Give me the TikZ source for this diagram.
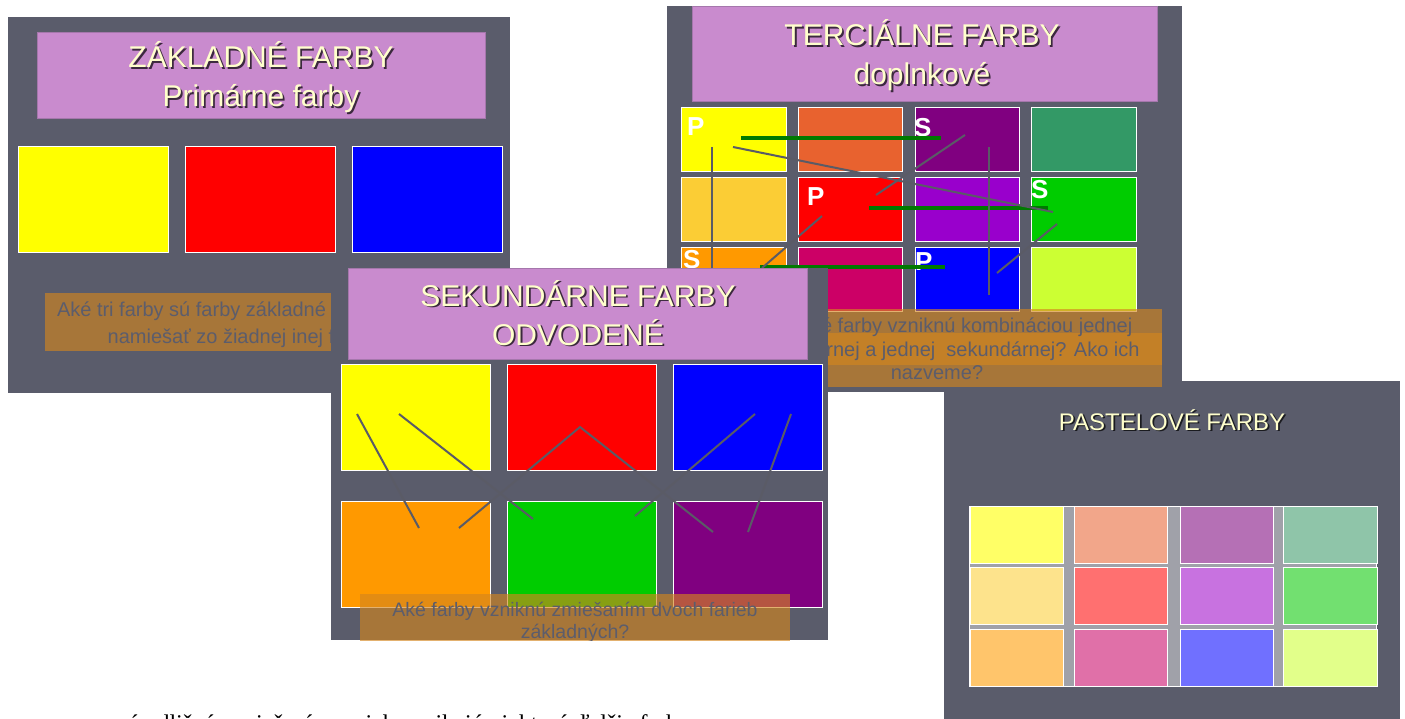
\documentclass[tikz,border=0pt]{standalone}
\usepackage{fontspec}
\setmainfont{Liberation Sans}
\newfontfamily\noteserif{Liberation Serif}
\usetikzlibrary{positioning}

\definecolor{slidegray}{HTML}{5A5C6B}
\definecolor{titlepurple}{HTML}{C98BCE}
\definecolor{titleedge}{HTML}{A577AC}
\definecolor{cream}{HTML}{FFFFCC}
\definecolor{captionorange}{HTML}{D4861E}
\definecolor{captiontext}{HTML}{5C5D6C}
\definecolor{wire}{HTML}{5A5B66}
\definecolor{pairgreen}{HTML}{007A00}
\definecolor{gridgray}{HTML}{A0A1A9}
% pure colours
\definecolor{cyellow}{HTML}{FFFF00}
\definecolor{cred}{HTML}{FF0000}
\definecolor{cblue}{HTML}{0000FF}
\definecolor{corange}{HTML}{FF9900}
\definecolor{cgreen}{HTML}{00CC00}
\definecolor{cpurple}{HTML}{800080}
% tertiary colours
\definecolor{tredorange}{HTML}{E8622F}
\definecolor{tteal}{HTML}{339966}
\definecolor{tyelloworange}{HTML}{FBCD35}
\definecolor{tviolet}{HTML}{9900CC}
\definecolor{tmagenta}{HTML}{CC0066}
\definecolor{tlime}{HTML}{CCFF33}
% pastel colours
\definecolor{pyellow}{HTML}{FFFF66}
\definecolor{psalmon}{HTML}{F2A68A}
\definecolor{pmauve}{HTML}{B570B5}
\definecolor{pteal}{HTML}{8FC5A9}
\definecolor{pcream}{HTML}{FDE38C}
\definecolor{pred}{HTML}{FF7070}
\definecolor{pviolet}{HTML}{C872E0}
\definecolor{pgreen}{HTML}{72E070}
\definecolor{porange}{HTML}{FFC56B}
\definecolor{ppink}{HTML}{E070A8}
\definecolor{pblue}{HTML}{7070FF}
\definecolor{plime}{HTML}{E2FF8A}

\tikzset{
  slide/.style={fill=slidegray},
  titlebox/.style={fill=titlepurple, draw=titleedge, line width=0.8pt},
  headline/.style={text=cream, align=center, inner sep=0pt, font=\fontsize{30}{39}\selectfont},
  headshadow/.style={text=black, opacity=0.7, xshift=1.8pt, yshift=-1.8pt},
  caption/.style={fill=captionorange, fill opacity=0.64},
  captiontxt/.style={text=captiontext, align=center, inner sep=0pt, anchor=base},
  swatch/.style={fill=#1, draw=white, line width=0.8pt, inner sep=0pt, anchor=north west},
  pslabel/.style={text=white, inner sep=0pt, anchor=north west, font=\bfseries\fontsize{26}{26}\selectfont},
  wireline/.style={draw=wire, line width=2pt},
  pairline/.style={draw=pairgreen, line width=4pt},
}

\begin{document}
\begin{tikzpicture}[x=1pt, y=-1pt]
\useasboundingbox (0,0) rectangle (1405,719);
\fill[white] (0,0) rectangle (1405,719);

%% pastel colours (bottom right)
\fill[slide] (944,381) rectangle (1400,719);
\node[headline, headshadow, font=\fontsize{24}{24}\selectfont, anchor=base] at (1172,430) {PASTELOVÉ FARBY};
\node[headline, font=\fontsize{24}{24}\selectfont, anchor=base] (pasttitle) at (1172,430) {PASTELOVÉ FARBY};
\fill[gridgray, draw=white, line width=0.8pt] (969,506) rectangle (1376,686);
\begin{scope}[every node/.append style={minimum width=93pt, minimum height=57pt}]
  \node[swatch=pyellow] (p11) at (970,506) {};
  \node[swatch=psalmon, right=10pt of p11] (p12) {};
  \node[swatch=pmauve, right=12pt of p12] (p13) {};
  \node[swatch=pteal, right=10pt of p13, minimum width=94pt] (p14) {};
  \node[swatch=pcream, below=3.5pt of p11] (p21) {};
  \node[swatch=pred, below=3.5pt of p12] (p22) {};
  \node[swatch=pviolet, below=3.5pt of p13] (p23) {};
  \node[swatch=pgreen, below=3.5pt of p14, minimum width=94pt] (p24) {};
  \node[swatch=porange, below=3.5pt of p21] (p31) {};
  \node[swatch=ppink, below=3.5pt of p22] (p32) {};
  \node[swatch=pblue, below=3.5pt of p23] (p33) {};
  \node[swatch=plime, below=3.5pt of p24, minimum width=94pt] (p34) {};
\end{scope}

%% primary colours (top left)
\fill[slide] (8,17) rectangle (510,393);
\draw[titlebox] (37,32) rectangle (485,118);
% base anchor = baseline of the last line
\node[headline, headshadow, anchor=base] at (261,107) {ZÁKLADNÉ FARBY\\Primárne farby};
\node[headline, anchor=base] (primtitle) at (261,107) {ZÁKLADNÉ FARBY\\Primárne farby};
\begin{scope}[every node/.append style={minimum width=150pt, minimum height=106pt}]
  \node[swatch=cyellow] (a1) at (18,146) {};
  \node[swatch=cred, right=16pt of a1] (a2) {};
  \node[swatch=cblue, right=16pt of a2] (a3) {};
\end{scope}
\fill[caption] (45,293) rectangle (467,351);
\node[captiontxt, font=\fontsize{20}{27}\selectfont] (primq) at (246,343)
  {Aké tri farby sú farby základné a nedajú sa\\namiešať zo žiadnej inej farby?};

%% tertiary colours (top right)
\fill[slide] (667,6) rectangle (1182,392);
\draw[titlebox] (692,6) rectangle (1157,101);
\node[headline, headshadow, anchor=base] at (922,85) {TERCIÁLNE FARBY\\doplnkové};
\node[headline, anchor=base] (terctitle) at (922,85) {TERCIÁLNE FARBY\\doplnkové};
\begin{scope}[every node/.append style={minimum width=104.5pt, minimum height=64pt}]
  \node[swatch=cyellow] (t11) at (681,107) {};
  \node[swatch=tredorange, right=11.5pt of t11] (t12) {};
  \node[swatch=cpurple, right=11.5pt of t12] (t13) {};
  \node[swatch=tteal, right=11.5pt of t13] (t14) {};
  \node[swatch=tyelloworange, below=5pt of t11] (t21) {};
  \node[swatch=cred, below=5pt of t12] (t22) {};
  \node[swatch=tviolet, below=5pt of t13] (t23) {};
  \node[swatch=cgreen, below=5pt of t14] (t24) {};
  \node[swatch=corange, below=5pt of t21] (t31) {};
  \node[swatch=tmagenta, below=5pt of t22] (t32) {};
  \node[swatch=cblue, below=5pt of t23] (t33) {};
  \node[swatch=tlime, below=5pt of t24] (t34) {};
\end{scope}
\node[pslabel] (lp1) at (687,117) {P};
\node[pslabel] (ls1) at (914,118) {S};
\node[pslabel] (lp2) at (807,187) {P};
\node[pslabel] (ls2) at (1031,180) {S};
\node[pslabel] (ls3) at (683,250) {S};
\node[pslabel] (lp3) at (915,252) {P};
% pairs of primary and secondary
\coordinate (g1a) at (741,138); \coordinate (g1b) at (941,138);
\coordinate (g2a) at (869,208); \coordinate (g2b) at (1048,208);
\coordinate (g3a) at (760,267); \coordinate (g3b) at (945,267);
\draw[pairline] (g1a) -- (g1b);
\draw[pairline] (g2a) -- (g2b);
\draw[pairline] (g3a) -- (g3b);
\coordinate (w1a) at (712,147); \coordinate (w1b) at (712,300);
\coordinate (w2a) at (733,147); \coordinate (w2b) at (1053,212);
\coordinate (w3a) at (965,135); \coordinate (w3b) at (876,195);
\coordinate (w4a) at (989,147); \coordinate (w4b) at (989,295);
\coordinate (w5a) at (822,216); \coordinate (w5b) at (762,268);
\coordinate (w6a) at (1057,224); \coordinate (w6b) at (997,273);
\draw[wireline] (w1a) -- (w1b);
\draw[wireline] (w2a) -- (w2b);
\draw[wireline] (w3a) -- (w3b);
\draw[wireline] (w4a) -- (w4b);
\draw[wireline] (w5a) -- (w5b);
\draw[wireline] (w6a) -- (w6b);
\fill[caption] (717,309) rectangle (1162,387);
\fill[caption] (717,333) rectangle (1162,365);
\node[captiontxt, font=\fontsize{20}{20}\selectfont] (tercq1) at (965,332) {Aké farby vzniknú kombináciou jednej};
\node[captiontxt, font=\fontsize{20}{20}\selectfont] (tercq2) at (958,356) {primárnej a jednej\ \ sekundárnej? Ako ich};
\node[captiontxt, font=\fontsize{20}{20}\selectfont] (tercq3) at (937,379) {nazveme?};

%% secondary colours (middle, on top)
\begin{scope}
\clip (331,268) rectangle (828,640);
\fill[slide] (331,268) rectangle (828,640);
\draw[titlebox] (348,268) rectangle (807,359);
\node[headline, headshadow, anchor=base] at (578,345) {SEKUNDÁRNE FARBY\\ODVODENÉ};
\node[headline, anchor=base] (sectitle) at (578,345) {SEKUNDÁRNE FARBY\\ODVODENÉ};
\begin{scope}[every node/.append style={minimum width=149pt, minimum height=106pt}]
  \node[swatch=cyellow] (s1) at (341,364) {};
  \node[swatch=cred, right=16pt of s1] (s2) {};
  \node[swatch=cblue, right=16pt of s2] (s3) {};
  \node[swatch=corange, below=30pt of s1] (s4) {};
  \node[swatch=cgreen, below=30pt of s2] (s5) {};
  \node[swatch=cpurple, below=30pt of s3] (s6) {};
\end{scope}
\coordinate (v1a) at (357,414); \coordinate (v1b) at (419,528);
\coordinate (v2a) at (399,414); \coordinate (v2b) at (533,519);
\coordinate (v3a) at (459,528); \coordinate (v3m) at (580,427); \coordinate (v3b) at (713,532);
\coordinate (v4a) at (755,414); \coordinate (v4b) at (635,516);
\coordinate (v5a) at (791,414); \coordinate (v5b) at (748,532);
\draw[wireline] (v1a) -- (v1b);
\draw[wireline] (v2a) -- (v2b);
\draw[wireline] (v3a) -- (v3m) -- (v3b);
\draw[wireline] (v4a) -- (v4b);
\draw[wireline] (v5a) -- (v5b);
\fill[caption] (360,594) rectangle (790,650);
\node[captiontxt, font=\fontsize{19.5}{22}\selectfont] (secq) at (575,638)
  {Aké farby vzniknú zmiešaním dvoch farieb\\základných?};
\end{scope}

%% text line below, cut off by the page edge
\node[anchor=base west, inner sep=0pt, font=\noteserif\fontsize{24}{24}\selectfont] (note) at (118,731)
  {sú odlišné a miešaním z nich vznikajú niektoré ďalšie farby};
\end{tikzpicture}
\end{document}
